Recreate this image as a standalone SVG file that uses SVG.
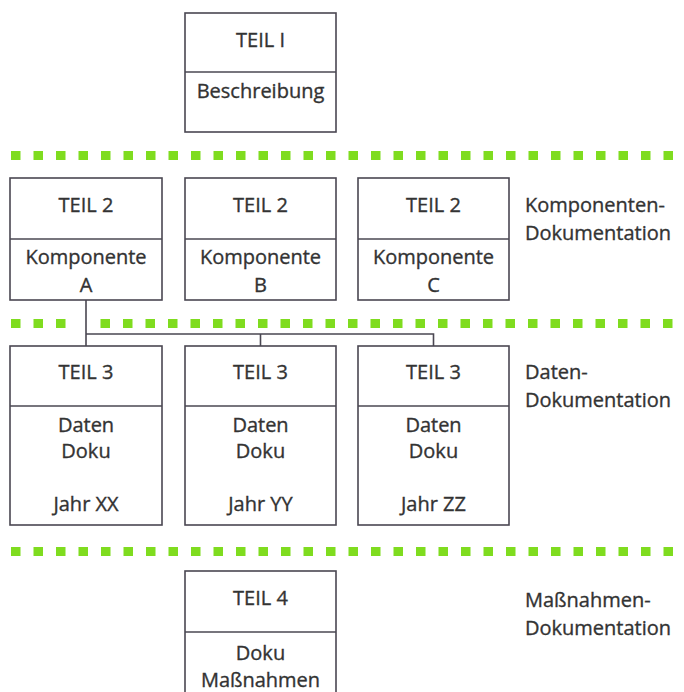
<svg xmlns="http://www.w3.org/2000/svg" width="684" height="692" viewBox="0 0 684 692">
<defs>
<style>
.box{fill:#fff;stroke:#4a4752;stroke-width:1.6}
.div{stroke:#4a4752;stroke-width:1.6}
.t{font-family:"Open Sans","DejaVu Sans",sans-serif;font-size:20px;fill:#333;stroke:#333;stroke-width:0.35;text-anchor:middle}
.l{font-family:"Open Sans","DejaVu Sans",sans-serif;font-size:20px;fill:#333;stroke:#333;stroke-width:0.35}
.dots{stroke:#7fdc1f;stroke-width:9;stroke-dasharray:9.5 13}
.conn{fill:none;stroke:#4a4752;stroke-width:1.6}
</style>
</defs>
<rect width="684" height="692" fill="#fff"/>
<g id="separators">
<line class="dots" x1="11" y1="155.5" x2="680" y2="155.5"/>
<line class="dots" x1="11" y1="323.5" x2="70" y2="323.5"/>
<line class="dots" x1="100.5" y1="323.5" x2="680" y2="323.5"/>
<line class="dots" x1="11" y1="551.5" x2="680" y2="551.5"/>
</g>
<g id="connectors">
<path class="conn" d="M86,300 V346 M86,334 H433.5 V346 M260.5,334 V346"/>
</g>
<g id="teil1">
<rect class="box" x="185" y="13" width="151" height="119"/>
<line class="div" x1="185" y1="72" x2="336" y2="72"/>
<text class="t" x="260.5" y="47">TEIL I</text>
<text class="t" x="260.5" y="98">Beschreibung</text>
</g>
<g id="teil2a">
<rect class="box" x="10" y="178" width="152" height="122"/>
<line class="div" x1="10" y1="239" x2="162" y2="239"/>
<text class="t" x="86" y="212">TEIL 2</text>
<text class="t" x="86" y="264">Komponente</text>
<text class="t" x="86" y="292">A</text>
</g>
<g id="teil2b">
<rect class="box" x="185" y="178" width="151" height="122"/>
<line class="div" x1="185" y1="239" x2="336" y2="239"/>
<text class="t" x="260.5" y="212">TEIL 2</text>
<text class="t" x="260.5" y="264">Komponente</text>
<text class="t" x="260.5" y="292">B</text>
</g>
<g id="teil2c">
<rect class="box" x="358" y="178" width="151" height="122"/>
<line class="div" x1="358" y1="239" x2="509" y2="239"/>
<text class="t" x="433.5" y="212">TEIL 2</text>
<text class="t" x="433.5" y="264">Komponente</text>
<text class="t" x="433.5" y="292">C</text>
</g>
<g id="teil3a">
<rect class="box" x="10" y="346" width="152" height="179"/>
<line class="div" x1="10" y1="406" x2="162" y2="406"/>
<text class="t" x="86" y="379">TEIL 3</text>
<text class="t" x="86" y="432">Daten</text>
<text class="t" x="86" y="458">Doku</text>
<text class="t" x="86" y="511">Jahr XX</text>
</g>
<g id="teil3b">
<rect class="box" x="185" y="346" width="151" height="179"/>
<line class="div" x1="185" y1="406" x2="336" y2="406"/>
<text class="t" x="260.5" y="379">TEIL 3</text>
<text class="t" x="260.5" y="432">Daten</text>
<text class="t" x="260.5" y="458">Doku</text>
<text class="t" x="260.5" y="511">Jahr YY</text>
</g>
<g id="teil3c">
<rect class="box" x="358" y="346" width="151" height="179"/>
<line class="div" x1="358" y1="406" x2="509" y2="406"/>
<text class="t" x="433.5" y="379">TEIL 3</text>
<text class="t" x="433.5" y="432">Daten</text>
<text class="t" x="433.5" y="458">Doku</text>
<text class="t" x="433.5" y="511">Jahr ZZ</text>
</g>
<g id="teil4">
<rect class="box" x="185" y="571" width="151" height="130"/>
<line class="div" x1="185" y1="632" x2="336" y2="632"/>
<text class="t" x="260.5" y="605">TEIL 4</text>
<text class="t" x="260.5" y="660">Doku</text>
<text class="t" x="260.5" y="687">Maßnahmen</text>
</g>
<g id="labels">
<text class="l" x="525" y="212">Komponenten-</text>
<text class="l" x="525" y="240">Dokumentation</text>
<text class="l" x="525" y="379">Daten-</text>
<text class="l" x="525" y="407">Dokumentation</text>
<text class="l" x="525" y="607">Maßnahmen-</text>
<text class="l" x="525" y="635">Dokumentation</text>
</g>
</svg>
